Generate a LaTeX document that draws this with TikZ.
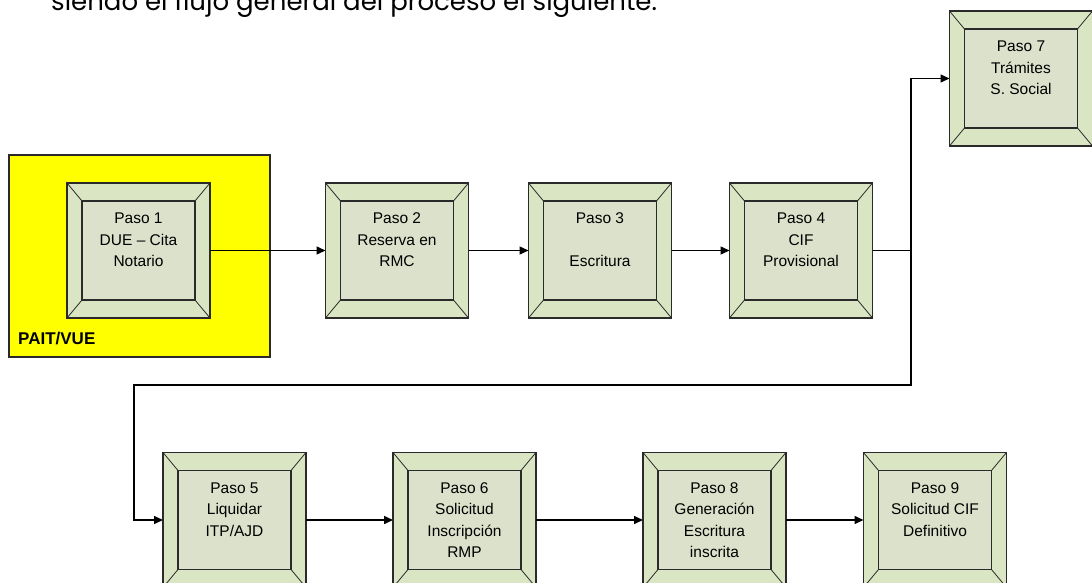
\documentclass[tikz,border=0pt]{standalone}
\usepackage{fontspec}
\setmainfont{Liberation Sans}
\newfontfamily\introfont{Poppins}
\usetikzlibrary{arrows.meta}
\definecolor{pasog}{HTML}{D9E5C3}
\definecolor{pasoi}{HTML}{DCE1CB}
\definecolor{pasol}{HTML}{2A2A2A}
\definecolor{paity}{HTML}{FFFF00}

\begin{document}
\begin{tikzpicture}[x=1pt, y=-1pt,
                paso/.style={draw=pasol, line width=1.6pt, fill=pasog, minimum width=143pt, minimum height=135pt,
                    inner sep=0pt, outer sep=0pt, align=center, font=\fontsize{15.5}{21.5}\selectfont,
                    path picture={
                        \draw[draw=pasol, line width=1.5pt, fill=pasoi] ([shift={(15pt,-18pt)}]path picture bounding box.north west) rectangle ([shift={(-15pt,18pt)}]path picture bounding box.south east);
                        \draw[draw=pasol, line width=.8pt] (path picture bounding box.north west) -- ++(15pt,-18pt);
                        \draw[draw=pasol, line width=.8pt] (path picture bounding box.north east) -- ++(-15pt,-18pt);
                        \draw[draw=pasol, line width=.8pt] (path picture bounding box.south west) -- ++(15pt,18pt);
                        \draw[draw=pasol, line width=.8pt] (path picture bounding box.south east) -- ++(-15pt,18pt);
                    }},
                flujo/.style={line width=1.5pt, -{Triangle[length=9pt, width=8pt]}}]
            \useasboundingbox (0,0) rectangle (1092,583);
            \node[anchor=base west, font=\introfont\fontsize{26}{30}\selectfont, inner sep=0pt] (intro) at (51,11) {siendo el flujo general del proceso el siguiente.};
            % zona PAIT/VUE
            \node[draw=pasol, line width=1.2pt, fill=paity, minimum width=261pt, minimum height=202pt, inner sep=0pt] (pait) at (139.5,256) {};
            \node[anchor=south west, font=\bfseries\fontsize{17}{20}\selectfont, inner sep=0pt] (paitlbl) at (18,345) {PAIT/VUE};
            % pasos (texto arriba: cuatro renglones siempre)
            \node[paso] (p1) at (138.5,250.5) {Paso 1\\DUE -- Cita\\Notario\\~};
            \node[paso] (p2) at (397,250.5) {Paso 2\\Reserva en\\RMC\\~};
            \node[paso] (p3) at (600,250.5) {Paso 3\\\\Escritura\\~};
            \node[paso] (p4) at (801,250.5) {Paso 4\\CIF\\Provisional\\~};
            \node[paso] (p7) at (1021,78.5) {Paso 7\\Trámites\\S. Social\\~};
            \node[paso] (p5) at (234.5,520) {Paso 5\\Liquidar\\ITP/AJD\\~};
            \node[paso] (p6) at (464.5,520) {Paso 6\\Solicitud\\Inscripción\\RMP};
            \node[paso] (p8) at (714.5,520) {Paso 8\\Generación\\Escritura\\inscrita};
            \node[paso] (p9) at (935,520) {Paso 9\\Solicitud CIF\\Definitivo\\~};
            % conexiones
            \coordinate (giro) at (911,250.5);
            \coordinate (baja) at (911,385);
            \coordinate (vuelta) at (134,385);
            \draw[flujo] (p1) -- (p2);
            \draw[flujo] (p2) -- (p3);
            \draw[flujo] (p3) -- (p4);
            \draw[flujo] (p4.east) -- (giro) |- (p7.west);
            \draw[flujo] (giro) -- (baja) -- (vuelta) |- (p5.west);
            \draw[flujo] (p5) -- (p6);
            \draw[flujo] (p6) -- (p8);
            \draw[flujo] (p8) -- (p9);
        \end{tikzpicture}
\end{document}
